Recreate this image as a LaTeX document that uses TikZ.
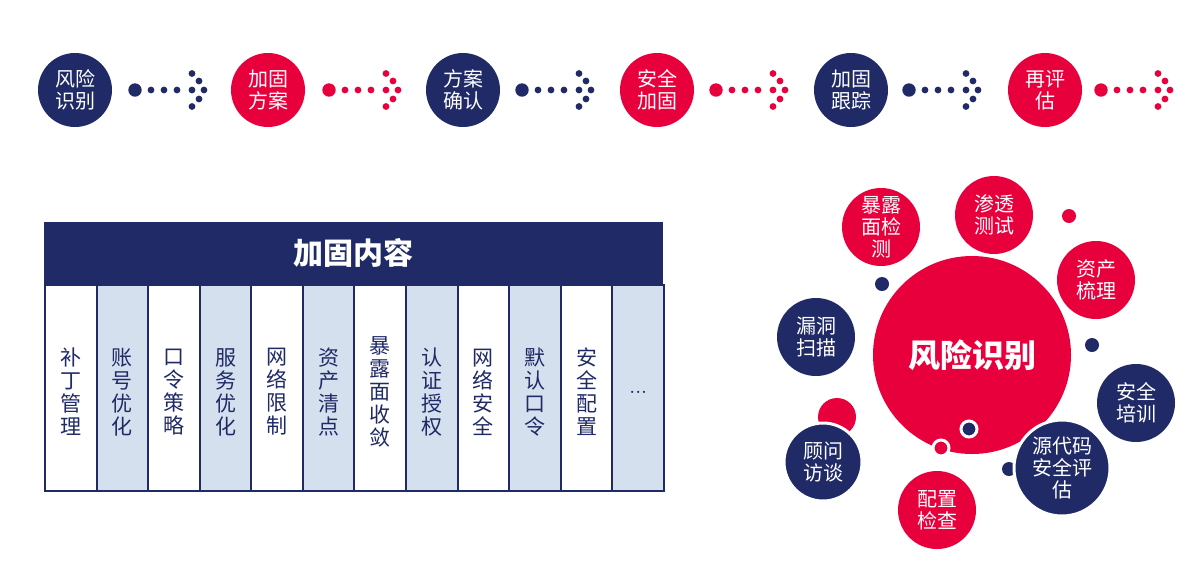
\documentclass[tikz,border=0pt]{standalone}
\usepackage{fontspec}
\newfontfamily\cjk{Noto Sans CJK SC}
\definecolor{navy}{HTML}{1F2A66}
\definecolor{rosso}{HTML}{E8003D}
\definecolor{pale}{HTML}{D5E0EF}
\tikzset{
  step circle/.style={circle,fill=#1,minimum size=37pt,inner sep=0pt,text=white,
    font=\cjk\fontsize{10}{11}\selectfont,align=center},
  bubble/.style={circle,fill=#1,minimum size=39pt,inner sep=0pt,text=white,
    font=\cjk\fontsize{10}{11}\selectfont,align=center},
  cell/.style={draw=navy,line width=1pt,fill=#1,minimum width=25.8pt,minimum height=103pt,
    inner sep=0pt,anchor=north west},
  celltext/.style={text=navy,font=\cjk\fontsize{10.5}{11.5}\selectfont,align=center}
}
\newcommand{\dotarrow}[3]{% x, y, colour
  \fill[#3] (#1,#2) circle (6.7);
  \foreach \dx in {16,29,42} \fill[#3] (#1+\dx,#2) circle (3.4);
  \foreach \dx/\dy in {57/-16.5,64/-9,57/0,69/0,64/9,57/16.5} \fill[#3] (#1+\dx,#2+\dy) circle (3.4);
}
\begin{document}
\begin{tikzpicture}[x=0.5pt,y=-0.5pt]
\useasboundingbox (0,0) rectangle (1199,569);

% top process
\node[step circle=navy]  (s1) at (75,90)   {风险\\识别};
\node[step circle=rosso] (s2) at (268,90)  {加固\\方案};
\node[step circle=navy]  (s3) at (463,90)  {方案\\确认};
\node[step circle=rosso] (s4) at (657,90)  {安全\\加固};
\node[step circle=navy]  (s5) at (851,90)  {加固\\跟踪};
\node[step circle=rosso] (s6) at (1045,90) {再评\\估};
\dotarrow{135}{90}{navy}
\dotarrow{329}{90}{rosso}
\dotarrow{522}{90}{navy}
\dotarrow{716}{90}{rosso}
\dotarrow{909}{90}{navy}
\dotarrow{1101}{90}{rosso}

% table
\node[fill=navy,minimum width=309.5pt,minimum height=31pt,anchor=north west,inner sep=0pt,
  text=white,font=\cjk\bfseries\fontsize{15}{16}\selectfont] (head) at (44,222) {加固内容};
\foreach \t [count=\i] in {补\\丁\\管\\理,账\\号\\优\\化,口\\令\\策\\略,服\\务\\优\\化,
    网\\络\\限\\制,资\\产\\清\\点,暴\\露\\面\\收\\敛,认\\证\\授\\权,网\\络\\安\\全,
    默\\认\\口\\令,安\\全\\配\\置,\textrm{...}}{
  \pgfmathsetmacro{\xa}{44+(\i-1)*51.58}
  \ifodd\i \def\cellfill{white}\else \def\cellfill{pale}\fi
  \node[cell=\cellfill] (c\i) at (\xa,284) {};
  \node[celltext] (t\i) at ([yshift=-2pt]c\i.center) {\t};
}

% risk identification cluster
\fill[navy] (1009,469) circle (7);
\fill[rosso] (837,417) circle (19);
\node[bubble=rosso,minimum size=99pt,font=\cjk\bfseries\fontsize{16}{18}\selectfont] (core) at (972,355) {风险识别};
\node[bubble=rosso] (b1) at (881,227)  {暴露\\面检\\测};
\node[bubble=rosso] (b2) at (994,215)  {渗透\\测试};
\node[bubble=rosso] (b3) at (1096,280) {资产\\梳理};
\node[bubble=navy]  (b4) at (816,337)  {漏洞\\扫描};
\node[bubble=navy]  (b5) at (1136,403) {安全\\培训};
\node[bubble=navy,draw=white,line width=1.5pt] (b6) at (823,462) {顾问\\访谈};
\node[bubble=rosso] (b7) at (937,510)  {配置\\检查};
\node[bubble=navy,draw=white,line width=1.5pt,minimum size=48pt] (b8) at (1062,468) {源代码\\安全评\\估};
\fill[rosso] (1069,216) circle (7);
\fill[navy] (882,284) circle (7);
\fill[navy] (1092,345) circle (7);
\filldraw[fill=navy,draw=white,line width=1.5pt] (969,429) circle (8);
\filldraw[fill=rosso,draw=white,line width=1.5pt] (941,448) circle (8);
\end{tikzpicture}
\end{document}
